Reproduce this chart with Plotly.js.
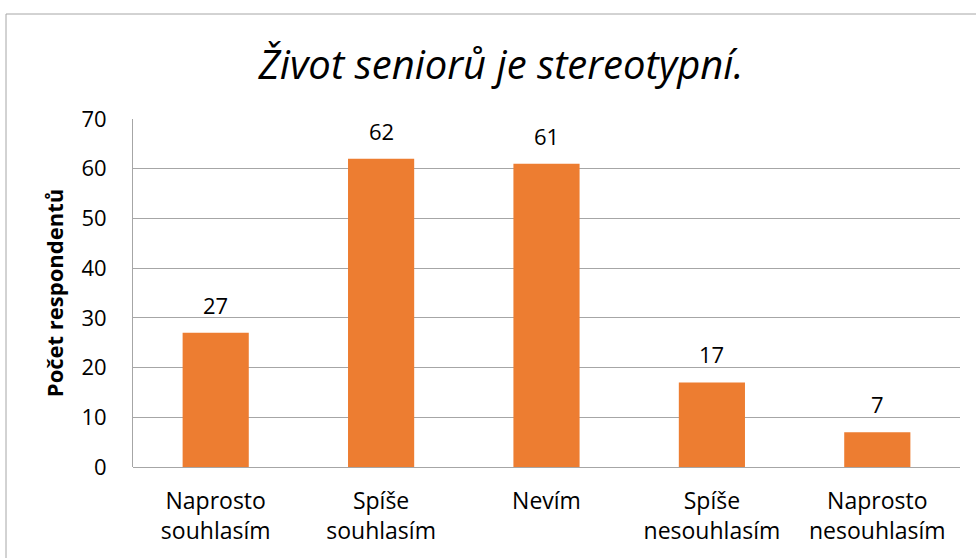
<!DOCTYPE html>
<html><head><meta charset="utf-8">
<script src="https://cdn.plot.ly/plotly-3.0.1.min.js"></script>
<style>html,body{margin:0;padding:0;background:#fff}#chart{width:976px;height:558px}</style>
</head><body><div id="chart"></div>
<script>
const categories = ["Naprosto<br>souhlasím", "Spíše<br>souhlasím", "Nevím", "Spíše<br>nesouhlasím", "Naprosto<br>nesouhlasím"];
const values = [27, 62, 61, 17, 7];
const yTicks = [0, 10, 20, 30, 40, 50, 60, 70];
const titleText = "Život seniorů je stereotypní.";
const yTitle = "Počet respondentů";

const L = 133, R = 16, T = 119, B = 91, W = 976, H = 558;
const pw = W - L - R, ph = H - T - B;
const font = "'Open Sans', sans-serif";

const trace = {
  type: "bar", x: categories, y: values,
  marker: {color: "#ED7D31"}, width: 0.4, hoverinfo: "none"
};
const annotations = categories.map((c, i) => ({
  x: c, y: values[i], xref: "x", yref: "y", text: String(values[i]),
  showarrow: false, yanchor: "bottom", yshift: 11,
  font: {family: font, size: 22, color: "#000"}
}));
const layout = {
  width: W, height: H,
  margin: {l: L, r: R, t: T, b: B, pad: 0},
  paper_bgcolor: "#fff", plot_bgcolor: "#fff",
  showlegend: false,
  title: {text: "<i>" + titleText + "</i>", x: (501 - L) / pw, xanchor: "center", xref: "paper",
          y: 1 - 65 / H, yanchor: "middle", yref: "container",
          font: {family: font, size: 40, color: "#000"}},
  xaxis: {type: "category", showgrid: false, zeroline: false, showline: false,
          ticks: "", ticklabelstandoff: 18,
          tickfont: {family: font, size: 23, color: "#000"}, automargin: false},
  yaxis: {range: [0, 70], tickvals: yTicks, ticktext: yTicks.map(String),
          showgrid: true, gridcolor: "#a6a6a6", gridwidth: 1,
          zeroline: true, zerolinecolor: "#a6a6a6", zerolinewidth: 1,
          showline: true, linecolor: "#a6a6a6", linewidth: 1, ticks: "",
          ticklabelstandoff: 21,
          tickfont: {family: font, size: 22, color: "#000"},
          title: {text: "<b>" + yTitle + "</b>", standoff: 11,
                  font: {family: font, size: 22, color: "#000"}}, automargin: false},
  annotations: annotations,
  shapes: [{type: "rect", xref: "paper", yref: "paper",
            x0: (6 - L) / pw, x1: (990 - L) / pw,
            y0: (H - B - 575) / ph, y1: (H - B - 14) / ph,
            line: {color: "#a6a6a6", width: 1}, fillcolor: "rgba(0,0,0,0)", layer: "below"}]
};
Plotly.newPlot("chart", [trace], layout, {displayModeBar: false, staticPlot: true});
</script></body></html>
